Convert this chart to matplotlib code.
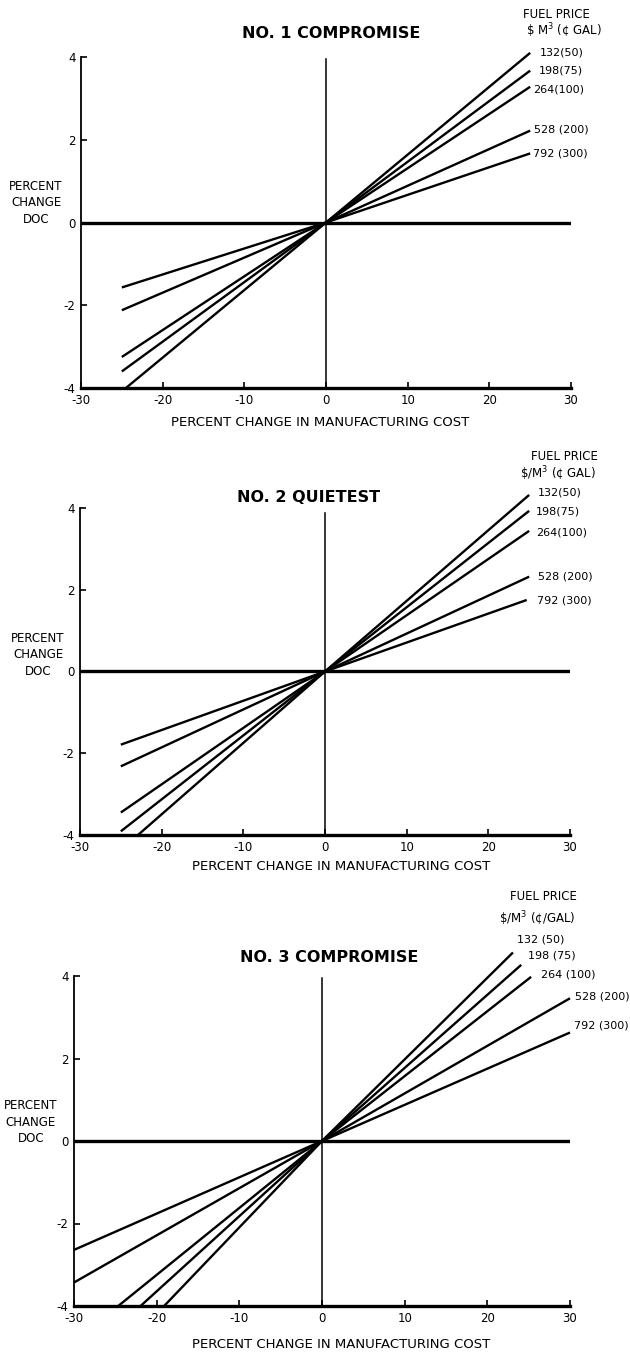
import matplotlib
matplotlib.use("Agg")
import matplotlib.pyplot as plt

# Sensitivity of direct operating cost (DOC) to manufacturing cost, three configurations.

W, H = 630, 1354

x_ticks = [-30, -20, -10, 0, 10, 20, 30]
y_ticks = [-4, -2, 0, 2, 4]

labels_1 = ["132(50)", "198(75)", "264(100)", "528 (200)", "792 (300)"]
labels_2 = ["132(50)", "198(75)", "264(100)", "528 (200)", "792 (300)"]
labels_3 = ["132 (50)", "198 (75)", "264 (100)", "528 (200)", "792 (300)"]

# each curve: left end, origin, right end
p1_x = [[-24.5, 0, 25], [-25, 0, 25], [-25, 0, 25], [-25, 0, 25], [-25, 0, 25]]
p1_y = [[-4.0, 0, 4.1], [-3.6, 0, 3.67], [-3.25, 0, 3.28], [-2.12, 0, 2.22], [-1.57, 0, 1.67]]

p2_x = [[-22.9, 0, 25], [-25, 0, 25], [-25, 0, 25], [-25, 0, 25], [-25, 0, 24.7]]
p2_y = [[-4.0, 0, 4.32], [-3.91, 0, 3.93], [-3.45, 0, 3.44], [-2.32, 0, 2.32], [-1.79, 0, 1.75]]

p3_x = [[-19.1, 0, 23.1], [-21.95, 0, 24.1], [-24.65, 0, 25.3], [-30, 0, 30], [-30, 0, 30]]
p3_y = [[-4.0, 0, 4.57], [-4.0, 0, 4.27], [-4.0, 0, 3.98], [-3.43, 0, 3.46], [-2.64, 0, 2.63]]

panels = [
    dict(title="NO. 1 COMPROMISE", unit=r"\$ M$^3$ (¢ GAL)", labels=labels_1, xs=p1_x, ys=p1_y,
         box=(81, 57, 571, 388), title_xy=(331, 33), head_xy=(556, 14), unit_xy=(564, 31),
         ylab_xy=(36, 203), xlab_xy=(320, 422), vtop=0.995,
         offs=[(10, 0), (9, 0), (3, -3), (4, 1), (3, 0)]),
    dict(title="NO. 2 QUIETEST", unit=r"\$/M$^3$ (¢ GAL)", labels=labels_2, xs=p2_x, ys=p2_y,
         box=(80, 508, 570, 835), title_xy=(309, 497), head_xy=(564, 457), unit_xy=(558, 474),
         ylab_xy=(38, 655), xlab_xy=(341, 867), vtop=0.985,
         offs=[(9, 2), (7, -1), (7, -2), (9, 0), (10, -1)]),
    dict(title="NO. 3 COMPROMISE", unit=r"\$/M$^3$ (¢/GAL)", labels=labels_3, xs=p3_x, ys=p3_y,
         box=(74, 976, 570, 1306), title_xy=(329, 957), head_xy=(543, 897), unit_xy=(537, 919),
         ylab_xy=(31, 1122), xlab_xy=(341, 1345), vtop=0.995,
         offs=[(4, 13), (7, 9), (10, 2), (5, 2), (4, 7)]),
]

plt.rcParams["font.family"] = "DejaVu Sans"
plt.rcParams["mathtext.default"] = "regular"

fig = plt.figure(figsize=(W / 100, H / 100), dpi=100)


def fx(x):
    return x / W


def fy(y):
    return 1 - y / H


for p in panels:
    x0, y0, x1, y1 = p["box"]
    ax = fig.add_axes([fx(x0), fy(y1), (x1 - x0) / W, (y1 - y0) / H])
    ax.set_xlim(-30, 30)
    ax.set_ylim(-4, 4)

    for s in ("top", "right"):
        ax.spines[s].set_visible(False)
    ax.spines["left"].set_linewidth(1.3)
    ax.spines["bottom"].set_linewidth(2.4)

    ax.set_xticks(x_ticks)
    ax.set_yticks(y_ticks)
    ax.set_xticklabels([str(v) for v in x_ticks])
    ax.set_yticklabels([str(v) for v in y_ticks])
    ax.tick_params(axis="both", direction="in", length=4, width=1.2, labelsize=8.5)
    ax.tick_params(axis="x", pad=4)
    ax.tick_params(axis="y", pad=4)

    ax.axhline(0, color="black", linewidth=2.4, zorder=2)
    ax.axvline(0, ymax=p["vtop"], color="black", linewidth=1.1, zorder=2)

    for xs, ys, lab, off in zip(p["xs"], p["ys"], p["labels"], p["offs"]):
        ax.plot(xs, ys, color="black", linewidth=1.7, solid_capstyle="butt", clip_on=False, zorder=3)
        ax.annotate(lab, xy=(xs[-1], ys[-1]), xytext=off, textcoords="offset pixels",
                    ha="left", va="center", fontsize=8, annotation_clip=False)

    fig.text(fx(p["title_xy"][0]), fy(p["title_xy"][1]), p["title"], ha="center", va="center",
             fontsize=11.5, fontweight="bold")
    fig.text(fx(p["head_xy"][0]), fy(p["head_xy"][1]), "FUEL PRICE", ha="center", va="center",
             fontsize=8.5)
    fig.text(fx(p["unit_xy"][0]), fy(p["unit_xy"][1]), p["unit"], ha="center", va="center",
             fontsize=8.5)
    fig.text(fx(p["ylab_xy"][0]), fy(p["ylab_xy"][1]), "PERCENT\nCHANGE\nDOC", ha="center",
             va="center", fontsize=8.5, linespacing=1.35)
    fig.text(fx(p["xlab_xy"][0]), fy(p["xlab_xy"][1]), "PERCENT CHANGE IN MANUFACTURING COST",
             ha="center", va="center", fontsize=9.5)

fig.savefig("out.png", dpi=100)
